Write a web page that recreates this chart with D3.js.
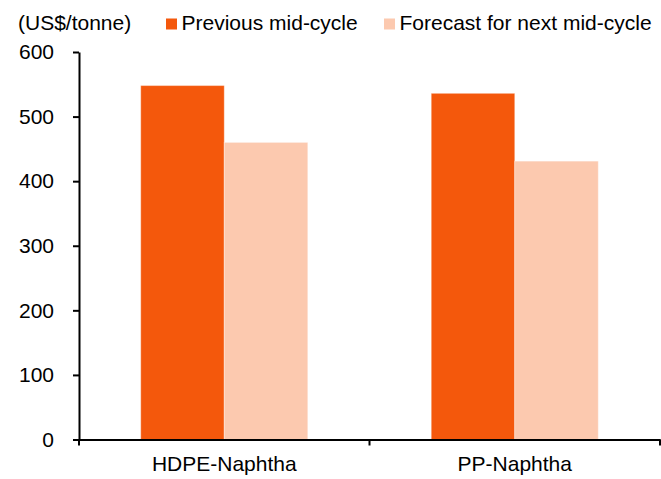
<!DOCTYPE html>
<html>
<head>
<meta charset="utf-8">
<script src="https://cdn.jsdelivr.net/npm/d3@7"></script>
<style>
  html, body { margin: 0; padding: 0; background: #fff; }
  svg { display: block; font-family: "Liberation Sans", Arial, sans-serif; }
</style>
</head>
<body>
<svg id="chart" width="661" height="479"></svg>
<script>
// Spread data (US$/tonne)
const categories = ["HDPE-Naphtha", "PP-Naphtha"];
const seriesNames = ["Previous mid-cycle", "Forecast for next mid-cycle"];
const previousMidCycle = [548, 536];
const forecastNextMidCycle = [460, 431];
const yTicks = [0, 100, 200, 300, 400, 500, 600];
const seriesColors = ["#F4580C", "#FCC9AF"];

const svg = d3.select("#chart");
const plotLeft = 79, plotRight = 660, plotTop = 52, plotBottom = 439.5;
const fontSize = 21;

const x = d3.scaleBand().domain(categories).range([plotLeft, plotRight])
  .paddingInner(0.425).paddingOuter(0.2125);
const xs = d3.scaleBand().domain(seriesNames).range([0, x.bandwidth()]);
const y = d3.scaleLinear().domain([0, 600]).range([plotBottom, plotTop]);

const rows = categories.map((c, i) => ({
  cat: c,
  vals: [previousMidCycle[i], forecastNextMidCycle[i]]
}));

// Bars
const groups = svg.append("g").selectAll("g").data(rows).join("g")
  .attr("transform", d => `translate(${x(d.cat)},0)`);
groups.selectAll("rect")
  .data(d => d.vals.map((v, j) => ({ key: seriesNames[j], v, j })))
  .join("rect")
  .attr("x", d => xs(d.key))
  .attr("width", xs.bandwidth())
  .attr("y", d => y(d.v))
  .attr("height", d => y(0) - y(d.v))
  .attr("fill", d => seriesColors[d.j])
  .attr("stroke", "rgba(255,255,255,0.35)")
  .attr("stroke-width", 1);

// Y axis
const yAxis = svg.append("g")
  .attr("transform", `translate(${plotLeft},0)`)
  .call(d3.axisLeft(y).tickValues(yTicks).tickSize(6).tickSizeOuter(0).tickPadding(19));
yAxis.select(".domain").attr("stroke", "#000").attr("stroke-width", 2);
yAxis.selectAll(".tick line").attr("stroke", "#000").attr("stroke-width", 2);
yAxis.selectAll("text").attr("font-size", fontSize).attr("fill", "#000")
  .attr("font-family", "Liberation Sans, Arial, sans-serif");

// X axis: baseline with category labels, ticks at category boundaries
const xAxis = svg.append("g")
  .attr("transform", `translate(0,${y(0)})`)
  .call(d3.axisBottom(x).tickSize(0).tickSizeOuter(0).tickPadding(17));
xAxis.select(".domain").attr("stroke", "#000").attr("stroke-width", 2);
xAxis.selectAll("text").attr("font-size", fontSize).attr("fill", "#000")
  .attr("font-family", "Liberation Sans, Arial, sans-serif");
const boundaries = categories.map(c => x(c) - x.step() * x.paddingInner() / 2).concat([plotRight]);
xAxis.selectAll(".boundary").data(boundaries).join("line")
  .attr("class", "boundary")
  .attr("x1", d => d).attr("x2", d => d)
  .attr("y1", 0).attr("y2", 6)
  .attr("stroke", "#000").attr("stroke-width", 2);

// Unit label
svg.append("text").attr("x", 18).attr("y", 30)
  .attr("font-size", fontSize).attr("fill", "#000").text("(US$/tonne)");

// Legend
const legendX = [166, 384];
const legend = svg.append("g").selectAll("g").data(seriesNames).join("g")
  .attr("transform", (d, i) => `translate(${legendX[i]},0)`);
legend.append("rect").attr("x", 0).attr("y", 18.5).attr("width", 11).attr("height", 11)
  .attr("fill", (d, i) => seriesColors[i]);
legend.append("text").attr("x", 15.5).attr("y", 30)
  .attr("font-size", fontSize).attr("fill", "#000").text(d => d);
</script>
</body>
</html>
